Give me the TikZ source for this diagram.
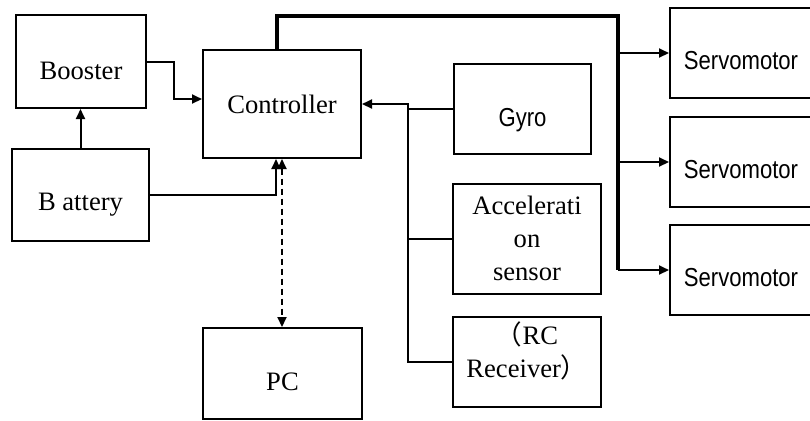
\documentclass[tikz,border=0pt]{standalone}
\usepackage{fontspec}
\setmainfont{Liberation Serif}
\newfontfamily\sansfont[FakeStretch=0.85]{Liberation Sans}
\newfontfamily\cjk{Noto Sans CJK JP}
\usetikzlibrary{arrows.meta}
\newcommand{\nudge}[2]{\raisebox{#1}[\height][\depth]{#2}}
\begin{document}
\begin{tikzpicture}[x=0.5pt, y=-0.5pt,
    block/.style ={rectangle, draw, line width=1pt, inner sep=0pt,
      font=\fontsize{13.3}{16.5}\selectfont},
    servo/.style ={block, minimum width=71pt, minimum height=45pt,
      font=\sansfont\fontsize{13}{15}\selectfont},
    wire/.style ={line width=1pt},
    link/.style ={wire, -{Triangle[length=5pt, width=4.5pt]}},
    bus/.style ={line width=1.6pt}]
   \useasboundingbox (0,0) rectangle (810,420);

   \node[block, minimum width=65pt, minimum height=46.5pt] (booster) at (81,61.5) {\nudge{-4.5pt}{Booster}};
   \node[block, minimum width=68.5pt, minimum height=46pt] (battery) at (80.5,195) {\nudge{-5pt}{B attery}};
   \node[block, minimum width=79pt, minimum height=54pt] (ctrl) at (282,104) {Controller};
   \node[block, minimum width=79.5pt, minimum height=45.5pt] (pc) at (282.5,373.5) {\nudge{-4pt}{PC}};
   \node[block, minimum width=68.5pt, minimum height=45pt, font=\sansfont\fontsize{13}{15}\selectfont] (gyro) at (522.5,109) {\nudge{-5.5pt}{Gyro}};
   \node[block, minimum width=74pt, minimum height=55pt, align=center] (accel) at (527,238.5) {Accelerati\\on\\sensor};
   \node[block, minimum width=74pt, minimum height=45pt] (rc) at (527,361.5) {\nudge{3.5pt}{\begin{tabular}{@{}c@{}}{\cjk （}RC\\Receiver{\cjk ）}\end{tabular}}};
   \node[servo] (servo1) at (741,53) {\nudge{-4pt}{Servomotor}};
   \node[servo] (servo2) at (741,162) {\nudge{-4pt}{Servomotor}};
   \node[servo] (servo3) at (741,270) {\nudge{-4pt}{Servomotor}};

   \coordinate (sensbus) at (408,0);
   \coordinate (servobus) at (618,16);

   \draw[link] (booster.east) -- ++(27,0) |- ([yshift=2.5pt]ctrl.west);
   \draw[link] (battery.north) to (battery.north |- booster.south);
   \draw[link] (battery.east) -| ([xshift=-3pt]ctrl.south);
   \draw[link, {Triangle[length=5pt, width=4.5pt]}-{Triangle[length=5pt, width=4.5pt]}, dash pattern=on 3pt off 2pt] (ctrl.south) to (ctrl.south |- pc.north);

   \draw[link] (rc.west) -| (sensbus |- ctrl.east) to (ctrl.east);
   \draw[wire] (gyro.west) to (gyro.west -| sensbus);
   \draw[wire] (accel.west) to (accel.west -| sensbus);

   \draw[bus] ([xshift=-2.5pt]ctrl.north) |- (servobus) to (servobus |- servo3.west);
   \draw[link] (servobus |- servo1.west) to (servo1.west);
   \draw[link] (servobus |- servo2.west) to (servo2.west);
   \draw[link] (servobus |- servo3.west) to (servo3.west);
 \end{tikzpicture}
\end{document}
